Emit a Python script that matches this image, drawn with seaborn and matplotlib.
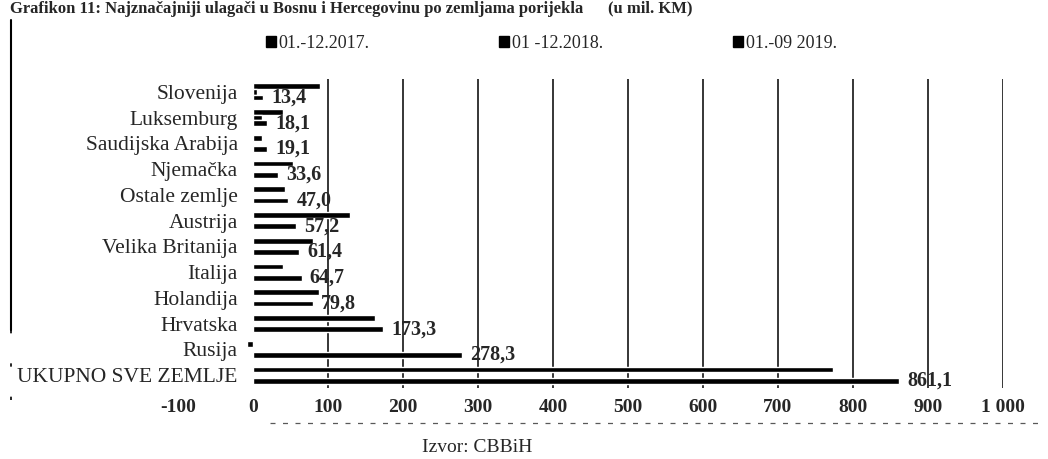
"""
Grafikon: najznacajniji ulagaci po zemljama porijekla (u mil KM)
Rekonstrukcija skeniranog grafikona -> out.png
"""

import matplotlib
matplotlib.use('Agg')
import pandas as pd
import matplotlib.pyplot as plt
import seaborn as sns
from matplotlib.patches import Patch
from matplotlib.lines import Line2D
from matplotlib.ticker import FuncFormatter

# ---- podaci (odozgo prema dolje, kako su na grafikonu) ----
zemlje = ['Slovenija', 'Luksemburg', 'Saudijska Arabija', 'Njemačka',
          'Ostale zemlje', 'Austrija', 'Velika Britanija', 'Italija',
          'Holandija', 'Hrvatska', 'Rusija', 'UKUPNO SVE ZEMLJE']
god_2017 = [89, 40, 12, 53, 43, 129, 80, 40, 88, 163, -8, 773]
god_2018 = [5, 12, 0, 0, 0, 0, 0, 0, 0, 0, 0, 0]
god_2019 = [13.4, 18.1, 19.1, 33.6, 47.0, 57.2, 61.4, 64.7, 79.8, 173.3, 278.3, 861.1]
serije = ['01.-12.2017.', '01 -12.2018.', '01.-09 2019.']
x_ticks = [-100, 0, 100, 200, 300, 400, 500, 600, 700, 800, 900, 1000]

df = pd.DataFrame({
    'zemlja': zemlje * 3,
    'period': [serije[0]] * len(zemlje) + [serije[1]] * len(zemlje) + [serije[2]] * len(zemlje),
    'iznos': god_2017 + god_2018 + god_2019,
})

sns.set_style('white')
plt.rcParams['font.family'] = ['Liberation Serif', 'DejaVu Serif']

fig = plt.figure(figsize=(10.48, 4.59), dpi=100)
ax = fig.add_axes([178 / 1048, 1 - 388 / 459, (1003 - 178) / 1048, (388 - 79) / 459])

sns.barplot(data=df, x='iznos', y='zemlja', hue='period', hue_order=serije,
            order=zemlje, orient='h', palette=['black'] * 3, width=0.66,
            saturation=1, legend=False, ax=ax, zorder=3)

# vertikalne linije mreze
ax.vlines([t for t in x_ticks if t > 0], -0.5, len(zemlje) - 0.3,
          colors='black', linewidth=1.1, zorder=1)

ax.set_xlim(-100, 1000)
ax.set_ylim(len(zemlje) - 0.5, -0.5)
ax.set_xticks(x_ticks)
ax.xaxis.set_major_formatter(FuncFormatter(lambda v, p: f'{int(v):,}'.replace(',', ' ')))
ax.tick_params(axis='x', length=0, pad=8, labelsize=14)
for t in ax.get_xticklabels():
    t.set_fontweight('bold')

# oznake zemalja uz nultu os
ax.spines['left'].set_position(('data', 0))
ax.tick_params(axis='y', length=0, pad=11, labelsize=15.5)
for s in ax.spines.values():
    s.set_visible(False)
ax.set_xlabel('')
ax.set_ylabel('')

# vrijednosti za 2019.
labels = [f'{v:.1f}'.replace('.', ',') for v in god_2019]
ax.bar_label(ax.containers[2], labels=labels, padding=6, fontsize=14.5,
             fontweight='bold')

# legenda
handles = [Patch(facecolor='black', edgecolor='black', label=s) for s in serije]
fig.legend(handles=handles, loc='center', bbox_to_anchor=(0.526, 1 - 43 / 459),
           ncol=3, frameon=False, fontsize=13, handlelength=0.55,
           handleheight=0.55, handletextpad=0.15, columnspacing=7.2)

# naslov (na skenu djelimicno odsjecen)
fig.text(0.01, 1 - 1 / 459, 'Grafikon 11: Najznačajniji ulagači u Bosnu i Hercegovinu po zemljama porijekla      (u mil. KM)',
         ha='left', va='top', fontsize=12, fontweight='bold')

fig.text(422 / 1048, 1 - 447 / 459, 'Izvor: CBBiH', ha='left', va='center', fontsize=14)

# okvir sa skena
fig.add_artist(Line2D([11 / 1048, 11 / 1048], [1 - 20 / 459, 1 - 330 / 459],
                      transform=fig.transFigure, color='black', linewidth=1.5))
fig.add_artist(Line2D([11 / 1048, 11 / 1048], [1 - 330 / 459, 1 - 420 / 459],
                      transform=fig.transFigure, color='black', linewidth=1.2,
                      linestyle=(0, (2, 18))))
fig.add_artist(Line2D([270 / 1048, 1040 / 1048], [1 - 423 / 459, 1 - 423 / 459],
                      transform=fig.transFigure, color='0.35', linewidth=0.9,
                      linestyle=(0, (4, 6))))

plt.savefig('out.png', dpi=100, facecolor='white')
plt.close()
